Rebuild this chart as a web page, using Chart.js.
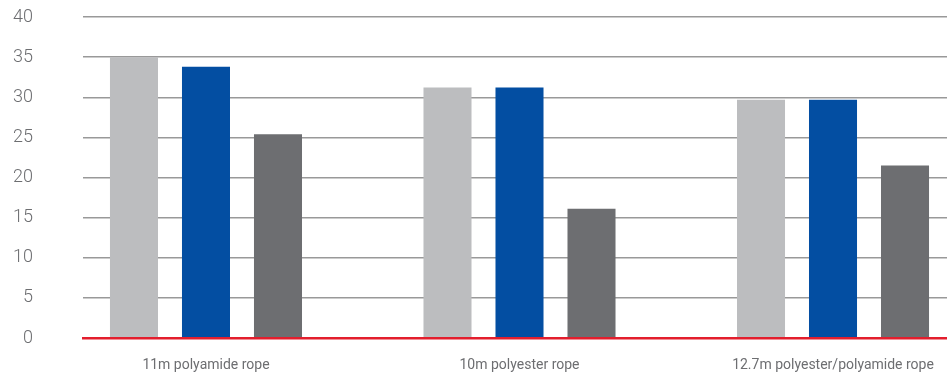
<!DOCTYPE html>
<html>
<head>
<meta charset="utf-8">
<script src="https://cdn.jsdelivr.net/npm/chart.js@4.4.0/dist/chart.umd.min.js"></script>
<style>
    html, body { margin: 0; padding: 0; background: #ffffff; }
    #wrap { width: 947px; height: 372px; }
</style>
</head>
<body>
<div id="wrap"><canvas id="ropeChart" width="947" height="372"></canvas></div>
<script>
// Chart data
const categories = ['11m polyamide rope', '10m polyester rope', '12.7m polyester/polyamide rope'];
const seriesLight = [35, 31.2, 29.7];
const seriesBlue = [33.8, 31.2, 29.7];
const seriesDark = [25.4, 16.1, 21.5];
const yTicks = [0, 5, 10, 15, 20, 25, 30, 35, 40];

const textGrey = '#6d6e71';

function toPoints(values) {
    return values.map((v, i) => ({ x: i, y: v }));
}

new Chart(document.getElementById('ropeChart'), {
    type: 'bar',
    data: {
        datasets: [
            { data: toPoints(seriesLight), backgroundColor: '#bcbdbf' },
            { data: toPoints(seriesBlue), backgroundColor: '#034ea2' },
            { data: toPoints(seriesDark), backgroundColor: '#6d6e71' }
        ]
    },
    options: {
        responsive: false,
        animation: false,
        categoryPercentage: 0.689,
        barPercentage: 0.667,
        layout: { padding: { top: 17, right: 0, bottom: 0, left: 0 } },
        plugins: {
            legend: { display: false },
            tooltip: { enabled: false }
        },
        scales: {
            x: {
                type: 'linear',
                offset: false,
                min: -0.3923,
                max: 2.3636,
                grid: { display: false },
                // red zero line, drawn above the bars
                border: { display: true, color: '#e31e2d', width: 2.5, z: 1 },
                afterBuildTicks: function (axis) {
                    axis.ticks = categories.map((c, i) => ({ value: i }));
                },
                afterFit: function (axis) {
                    axis.height = 34;
                },
                ticks: {
                    autoSkip: false,
                    maxRotation: 0,
                    padding: 11,
                    color: textGrey,
                    font: { family: 'Roboto', size: 14 },
                    callback: function (value) {
                        return categories[value];
                    }
                }
            },
            y: {
                min: 0,
                max: 40,
                afterBuildTicks: function (axis) {
                    axis.ticks = yTicks.map(v => ({ value: v }));
                },
                afterFit: function (axis) {
                    // fixed axis width, and keep the large tick padding out of the vertical padding
                    axis.width = 83;
                    axis.paddingTop = 10;
                    axis.paddingBottom = 10;
                },
                border: { display: false },
                grid: {
                    color: '#999999',
                    lineWidth: 1.5,
                    drawTicks: false
                },
                ticks: {
                    padding: 50,
                    color: textGrey,
                    font: { family: 'Roboto', size: 18, weight: '300' }
                }
            }
        }
    }
});
</script>
</body>
</html>
